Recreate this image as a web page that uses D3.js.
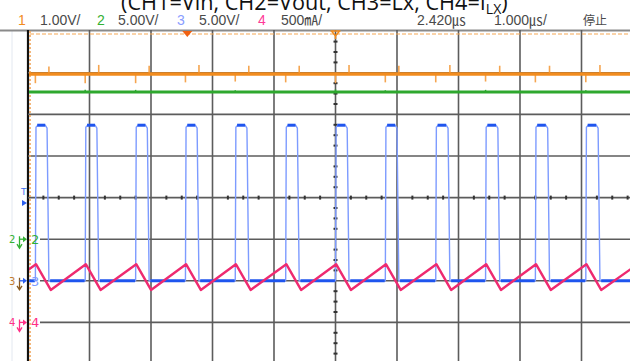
<!DOCTYPE html>
<html><head><meta charset="utf-8">
<script src="https://cdn.jsdelivr.net/npm/d3@7"></script>
<style>html,body{margin:0;padding:0;background:#fff;overflow:hidden} svg{display:block}</style>
</head><body>
<svg id="c" width="630" height="361"></svg>
<script>
// ---------------- data ----------------
const titleParts = ["(CH1=Vin, CH2=Vout, CH3=Lx, CH4=I", "LX", ")"];
const headerNums = ["1", "2", "3", "4"];
const headerScales = ["1.00V/", "5.00V/", "5.00V/", "500㎃/"];
const headerTime = ["2.420㎲", "1.000㎲/", "停止"];
const timeGrid = [-5, -4, -3, -2, -1, 0, 1, 2, 3, 4];   // µs, 1 µs/div
const divGrid = [4, 3, 2, 1, 0, -1, -2, -3];             // vertical divisions
const channelPos = [3, -1, -2, -3];                      // ground marker (div)
const channelPerDiv = [1, 5, 5, 0.5];                    // V/div, V/div, V/div, A/div
const channelNames = ["1", "2", "3", "4"];
// CH3 Lx switching node (V)
const lxRise = [-4.88, -4.07, -3.25, -2.44, -1.63, -0.81, 0.00, 0.81, 1.63, 2.44, 3.25, 4.07];
const lxFall = [-4.66, -3.85, -3.03, -2.22, -1.41, -0.59, 0.22, 1.03, 1.86, 2.67, 3.48, 4.30];
const lxHigh = 18.7;
const lxLow = 0.0;
// CH4 inductor current (A)
const ilxT = [-5.00, -4.87, -4.63, -4.06, -3.82, -3.24, -3.00, -2.43, -2.19, -1.62, -1.38,
              -0.80, -0.56, 0.01, 0.25, 0.82, 1.06, 1.64, 1.88, 2.45, 2.69, 3.26, 3.50,
              4.08, 4.32, 4.80];
const ilxA = [0.63, 0.70, 0.39, 0.70, 0.39, 0.70, 0.39, 0.70, 0.39, 0.70, 0.39,
              0.70, 0.39, 0.70, 0.39, 0.70, 0.39, 0.70, 0.39, 0.70, 0.39, 0.70, 0.39,
              0.70, 0.39, 0.64];
// CH2 Vout (V)
const vout = 17.7;
const voutBlipT = [-4.07, -3.25, -1.63, 0.00, 0.81, 2.44, 4.07];
const voutBlipV = [0.25, 0.25, 0.2, 0.3, 0.2, 0.25, 0.2];
// CH1 Vin, AC coupled ripple (V)
const vinLevel = -0.03;
const vinSpikeT = [-4.88, -4.66, -4.07, -3.85, -3.25, -3.03, -2.44, -2.22, -1.63, -1.41, -0.81, -0.59,
                   0.00, 0.22, 0.81, 1.03, 1.63, 1.86, 2.44, 2.67, 3.25, 3.48, 4.07, 4.30];
const vinSpikeV = [-0.22, 0.18, -0.22, 0.22, -0.22, 0.2, -0.2, 0.22, -0.18, 0.2, -0.2, 0.2,
                   -0.22, 0.22, -0.2, 0.2, -0.2, 0.22, -0.18, 0.2, -0.2, 0.2, -0.2, 0.22];

// ---------------- drawing ----------------
const W = 630, H = 361;
const svg = d3.select("#c");
const x = d3.scaleLinear().domain([-5, 5]).range([28, 643]);
const y = d3.scaleLinear().domain([-4, 4]).range([364, 31.2]);
const yc = (ch, v) => y(channelPos[ch] + v / channelPerDiv[ch]);

const COL = {orange: "#f28c1e", green: "#2ea82e", blueDark: "#1f55ee", blueLight: "#7d9bff",
             pink: "#ee2a70", grid: "#5c5c5c", text: "#4a4a4a"};

svg.append("rect").attr("width", W).attr("height", H).attr("fill", "#fff");

// faint left strip line
svg.append("line").attr("x1", 12).attr("x2", 12).attr("y1", 30).attr("y2", H)
  .attr("stroke", "#e3e8f0").attr("stroke-width", 1);

// title (cut off at top)
const tt = svg.append("text").attr("x", 121).attr("y", 10)
  .attr("font-family", "Open Sans, sans-serif").attr("font-size", 20).attr("fill", "#111");
tt.append("tspan").text(titleParts[0]);
const sub = tt.append("tspan").attr("font-size", 13).attr("dy", 4).text(titleParts[1]);
const endT = tt.append("tspan").attr("dy", -4).text(titleParts[2]);
const w0 = tt.node().getComputedTextLength();
const fs = 20 * 387 / w0;
tt.attr("font-size", fs);
sub.attr("font-size", fs * 0.65).attr("dy", fs * 0.2);
endT.attr("dy", -fs * 0.2);

// header
const hdrY = 25;
const numX = [18, 97, 177, 258];
const scaleX = [40, 118, 199, 281];
const numCol = [COL.orange, "#33b033", "#8a9dff", "#ff3a98"];
headerNums.forEach((n, i) => {
  svg.append("text").attr("x", numX[i]).attr("y", hdrY).attr("font-family", "Liberation Sans, Arial")
    .attr("font-size", 14).attr("fill", numCol[i]).text(n);
  svg.append("text").attr("x", scaleX[i]).attr("y", hdrY).attr("font-family", "Liberation Sans, Arial, Noto Sans CJK JP")
    .attr("font-size", 14).attr("fill", COL.text).text(headerScales[i]);
});
const timeX = [417, 494, 583];
headerTime.forEach((s, i) => {
  svg.append("text").attr("x", timeX[i]).attr("y", hdrY).attr("font-family", i === 2 ? "Noto Sans CJK JP" : "Liberation Sans, Arial, Noto Sans CJK JP")
    .attr("font-size", i === 2 ? 12 : 14).attr("fill", COL.text).text(s);
});

// top border
svg.append("line").attr("x1", 0).attr("x2", W).attr("y1", 30.5).attr("y2", 30.5)
  .attr("stroke", "#8a8a8a").attr("stroke-width", 2);

// grid
const grid = svg.append("g");
timeGrid.forEach(t => {
  grid.append("line").attr("x1", x(t)).attr("x2", x(t)).attr("y1", 30).attr("y2", H)
    .attr("stroke", t === -5 ? "#111" : COL.grid).attr("stroke-width", t === -5 ? 2.2 : 1.6);
});
const labelledDivs = channelPos.slice(1);
divGrid.forEach(d => {
  if (d === 4) return;
  const x0 = labelledDivs.includes(d) ? 40 : 28;
  grid.append("line").attr("x1", x0).attr("x2", W).attr("y1", y(d)).attr("y2", y(d))
    .attr("stroke", COL.grid).attr("stroke-width", 1.6);
});
// center minor ticks
const minorT = d3.range(-5, 5.001, 0.25).filter(t => Math.abs(t - Math.round(t)) > 0.01);
minorT.forEach(t => {
  grid.append("line").attr("x1", x(t)).attr("x2", x(t)).attr("y1", y(0) - 2).attr("y2", y(0) + 2)
    .attr("stroke", "#333").attr("stroke-width", 2);
});
const minorD = d3.range(-4, 4.001, 0.25).filter(d => Math.abs(d - Math.round(d)) > 0.01);
minorD.forEach(d => {
  grid.append("line").attr("x1", x(0) - 2).attr("x2", x(0) + 2).attr("y1", y(d)).attr("y2", y(d))
    .attr("stroke", "#333").attr("stroke-width", 2);
});

// orange dashed trigger level and dotted left line
svg.append("line").attr("x1", 30).attr("x2", W).attr("y1", 34).attr("y2", 34)
  .attr("stroke", "#f6a855").attr("stroke-width", 1.2).attr("stroke-dasharray", "4,2");
svg.append("line").attr("x1", 30).attr("x2", 30).attr("y1", 31).attr("y2", H)
  .attr("stroke", "#f0a050").attr("stroke-width", 1.5).attr("stroke-dasharray", "2,2");

// trigger markers
svg.append("path").attr("d", `M${x(-2.41) - 5},31 L${x(-2.41) + 5},31 L${x(-2.41)},37 Z`).attr("fill", "#f06010");
svg.append("path").attr("d", `M${x(0) - 5},31 L${x(0) + 5},31 M${x(0) - 4},31 L${x(0)},36 L${x(0) + 4},31 M${x(0)},36 L${x(0)},39`)
  .attr("stroke", COL.orange).attr("stroke-width", 1.6).attr("fill", "none");

// clip
svg.append("clipPath").attr("id", "clip").append("rect").attr("x", 29).attr("y", 31).attr("width", W - 29).attr("height", H - 31);
const plot = svg.append("g").attr("clip-path", "url(#clip)");
const line = d3.line().x(d => x(d[0])).y(d => d[1]);

// CH2 Vout
plot.append("path").attr("d", line([[-5, yc(1, vout)], [5, yc(1, vout)]]))
  .attr("stroke", COL.green).attr("stroke-width", 3).attr("fill", "none");
voutBlipT.forEach((t, i) => {
  plot.append("line").attr("x1", x(t)).attr("x2", x(t)).attr("y1", yc(1, vout)).attr("y2", yc(1, vout + voutBlipV[i]))
    .attr("stroke", COL.green).attr("stroke-width", 1.5);
});

// CH1 Vin
vinSpikeT.forEach((t, i) => {
  plot.append("line").attr("x1", x(t)).attr("x2", x(t)).attr("y1", yc(0, vinLevel)).attr("y2", yc(0, vinLevel + vinSpikeV[i]))
    .attr("stroke", "#f5a550").attr("stroke-width", 1.6);
});
plot.append("path").attr("d", line([[-5, yc(0, vinLevel)], [5, yc(0, vinLevel)]]))
  .attr("stroke", COL.orange).attr("stroke-width", 3.5).attr("fill", "none");

// CH3 Lx
const lxPts = [[-5, yc(2, lxLow)]];
lxRise.forEach((r, i) => {
  const f = lxFall[i];
  lxPts.push([r, yc(2, lxLow)], [r + 0.01, yc(2, lxHigh) + 2], [r + 0.04, yc(2, lxHigh)],
             [f - 0.06, yc(2, lxHigh)], [f - 0.03, yc(2, lxHigh) + 3], [f, yc(2, lxLow)]);
});
lxPts.push([5, yc(2, lxLow)]);
plot.append("path").attr("d", line(lxPts)).attr("stroke", COL.blueLight).attr("stroke-width", 1.4)
  .attr("fill", "none").attr("stroke-linejoin", "round");
lxRise.forEach((r, i) => {
  plot.append("line").attr("x1", x(r + 0.03)).attr("x2", x(lxFall[i] - 0.06))
    .attr("y1", yc(2, lxHigh)).attr("y2", yc(2, lxHigh))
    .attr("stroke", COL.blueDark).attr("stroke-width", 3);
});
const baseStarts = [-5].concat(lxFall);
const baseEnds = lxRise.concat([5]);
baseStarts.forEach((s, i) => {
  plot.append("line").attr("x1", x(s + 0.02)).attr("x2", x(baseEnds[i] - 0.01))
    .attr("y1", yc(2, lxLow)).attr("y2", yc(2, lxLow))
    .attr("stroke", COL.blueDark).attr("stroke-width", 3);
});

// CH4 I_LX
plot.append("path").attr("d", line(ilxT.map((t, i) => [t, yc(3, ilxA[i])])))
  .attr("stroke", COL.pink).attr("stroke-width", 2.4).attr("fill", "none").attr("stroke-linejoin", "round");

// left channel markers
svg.append("text").attr("x", 21).attr("y", 195).attr("font-family", "DejaVu Sans").attr("font-size", 9)
  .attr("fill", "#3a6ef0").text("T");
svg.append("path").attr("d", "M22,200 L27,203 L22,206 Z").attr("fill", "#2a5ef0");

const markerCol1 = ["", "#33b033", "#c07a30", "#ff2f86"];
const markerCol2 = ["", "#33b033", "#7d9bff", "#ff2f86"];
const arrowCol = ["", "#33b033", "#2a5ef0", "#ff2f86"];
[1, 2, 3].forEach(ch => {
  const yy = y(channelPos[ch]);
  svg.append("text").attr("x", 9).attr("y", yy + 4).attr("font-family", "DejaVu Sans").attr("font-size", 10)
    .attr("fill", markerCol1[ch]).text(channelNames[ch]);
  svg.append("path").attr("d", `M19.5,${yy - 3} L19.5,${yy + 8} M17,${yy + 5} L19.5,${yy + 9} L22,${yy + 5}`)
    .attr("stroke", ch === 2 ? "#8a5a20" : markerCol1[ch]).attr("stroke-width", 1.3).attr("fill", "none");
  svg.append("path").attr("d", `M19.5,${yy} L23,${yy}`).attr("stroke", arrowCol[ch]).attr("stroke-width", 1.3);
  svg.append("path").attr("d", `M23,${yy - 3} L27,${yy} L23,${yy + 3} Z`).attr("fill", arrowCol[ch]);
  svg.append("text").attr("x", 31).attr("y", yy + 5).attr("font-family", "DejaVu Sans").attr("font-size", 13)
    .attr("fill", markerCol2[ch]).text(channelNames[ch]);
});
</script>
</body></html>
